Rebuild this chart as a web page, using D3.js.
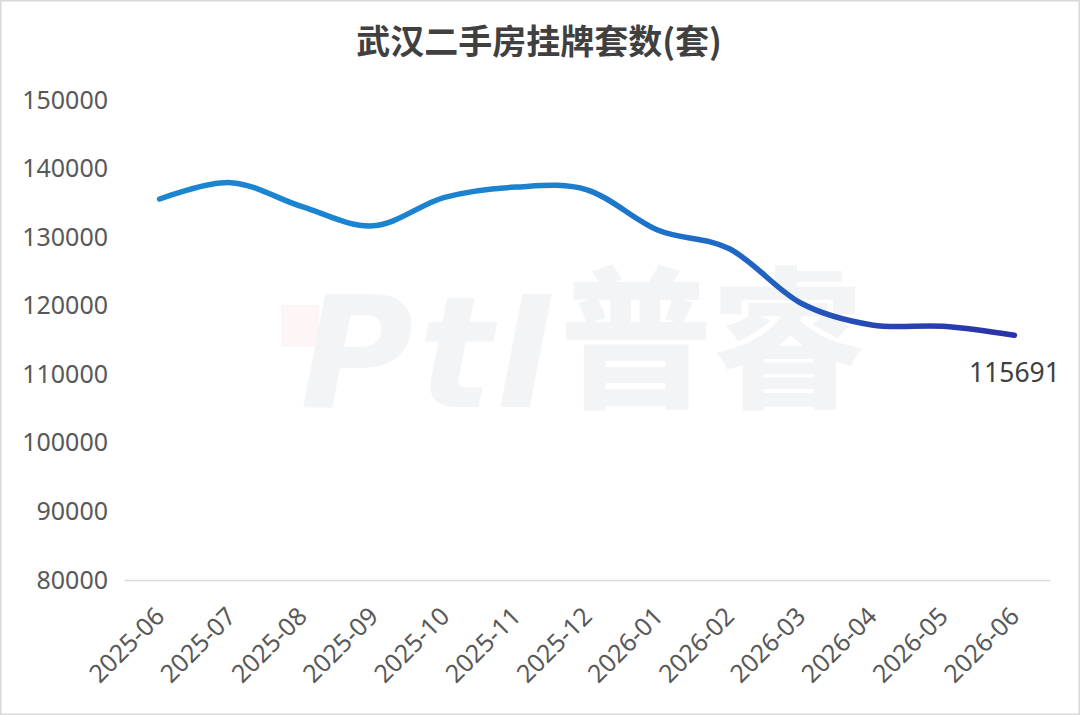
<!DOCTYPE html>
<html>
<head>
  <meta charset="utf-8" />
  <title>武汉二手房挂牌套数</title>
  <script src="https://cdn.jsdelivr.net/npm/d3@7/dist/d3.min.js"></script>
  <style>
    html, body { margin: 0; padding: 0; background: #fff; }
    svg { display: block; }
  </style>
</head>
<body>
<div id="vis"></div>
<script>
  var w = 1080;
  var h = 715;

  // data
  var months = ["2025-06", "2025-07", "2025-08", "2025-09", "2025-10", "2025-11", "2025-12",
                "2026-01", "2026-02", "2026-03", "2026-04", "2026-05", "2026-06"];
  var listings = [135560, 137950, 134450, 131650, 135800, 137300, 136900,
                  131000, 128300, 120400, 117200, 117000, 115691];
  var yTicks = [80000, 90000, 100000, 110000, 120000, 130000, 140000, 150000];
  var title = "武汉二手房挂牌套数(套)";

  var svg = d3.select("#vis")
    .append("svg")
    .attr("width", w)
    .attr("height", h);

  svg.append("rect")
    .attr("x", 0.75).attr("y", 0.75)
    .attr("width", w - 1.5).attr("height", h - 1.5)
    .attr("fill", "white")
    .attr("stroke", "#d9d9d9")
    .attr("stroke-width", 1.5);

  // watermark
  var wm = svg.append("g").attr("class", "watermark");
  wm.append("rect")
    .attr("x", 281).attr("y", 305).attr("width", 38).attr("height", 42)
    .attr("fill", "#fef5f7");
  wm.append("text")
    .attr("x", 300).attr("y", 407)
    .attr("font-family", "'DejaVu Sans', sans-serif")
    .attr("font-weight", "bold")
    .attr("font-style", "italic")
    .attr("font-size", 155)
    .attr("fill", "#f3f4f6")
    .attr("textLength", 255)
    .text("PtI");
  wm.append("text")
    .attr("x", 560).attr("y", 396)
    .attr("font-family", "'Noto Sans CJK SC', sans-serif")
    .attr("font-weight", "900")
    .attr("font-size", 152)
    .attr("fill", "#f3f4f6")
    .text("普睿");

  var x = d3.scalePoint()
    .domain(months)
    .range([124, 1050])
    .padding(0.5);

  var y = d3.scaleLinear()
    .domain([80000, 150000])
    .range([580, 100]);

  // title
  svg.append("text")
    .attr("x", 539).attr("y", 54)
    .attr("text-anchor", "middle")
    .attr("font-family", "'Noto Sans CJK SC', sans-serif")
    .attr("font-weight", "bold")
    .attr("font-size", 34)
    .attr("fill", "#404040")
    .text(title);

  // y axis (labels only)
  var yAxis = d3.axisLeft(y).tickValues(yTicks).tickFormat(d3.format("d"))
    .tickSize(0).tickPadding(0);
  var gy = svg.append("g")
    .attr("transform", "translate(108,0)")
    .call(yAxis);
  gy.select(".domain").remove();
  gy.selectAll("text")
    .attr("font-family", "'Noto Sans', sans-serif")
    .attr("font-size", 25)
    .attr("fill", "#595959");

  // x axis
  var xAxis = d3.axisBottom(x).tickSize(0).tickPadding(0);
  var gx = svg.append("g")
    .attr("transform", "translate(0,580)")
    .call(xAxis);
  gx.select(".domain")
    .attr("stroke", "#d9d9d9")
    .attr("stroke-width", 1.5);
  gx.selectAll("text")
    .attr("font-family", "'Noto Sans', sans-serif")
    .attr("font-size", 25)
    .attr("fill", "#595959")
    .attr("text-anchor", "end")
    .attr("dy", null)
    .attr("y", null)
    .attr("transform", "translate(6,38) rotate(-45)");

  // line with left-to-right gradient
  var defs = svg.append("defs");
  var grad = defs.append("linearGradient")
    .attr("id", "lineGrad")
    .attr("gradientUnits", "userSpaceOnUse")
    .attr("x1", x(months[0])).attr("y1", 0)
    .attr("x2", x(months[months.length - 1])).attr("y2", 0);
  grad.append("stop").attr("offset", "0").attr("stop-color", "#1b86d1");
  grad.append("stop").attr("offset", "0.45").attr("stop-color", "#1b82cf");
  grad.append("stop").attr("offset", "0.7").attr("stop-color", "#2063c2");
  grad.append("stop").attr("offset", "0.85").attr("stop-color", "#2844b3");
  grad.append("stop").attr("offset", "1").attr("stop-color", "#2b31a9");

  var line = d3.line()
    .x(function(d, i) { return x(months[i]); })
    .y(function(d) { return y(d); })
    .curve(d3.curveCardinal.tension(0));

  svg.append("path")
    .datum(listings)
    .attr("d", line)
    .attr("fill", "none")
    .attr("stroke", "url(#lineGrad)")
    .attr("stroke-width", 5.5)
    .attr("stroke-linecap", "round")
    .attr("stroke-linejoin", "round");

  // last value label
  var last = listings.length - 1;
  svg.append("text")
    .attr("x", x(months[last]))
    .attr("y", y(listings[last]) + 47)
    .attr("text-anchor", "middle")
    .attr("font-family", "'Noto Sans', sans-serif")
    .attr("font-size", 26.5)
    .attr("fill", "#404040")
    .text(listings[last]);
</script>
</body>
</html>
